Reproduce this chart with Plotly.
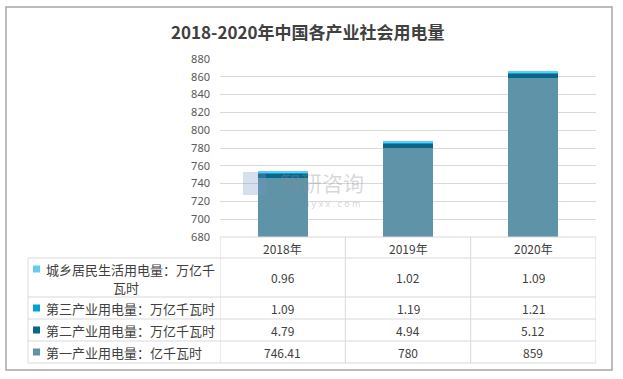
import plotly.graph_objects as go

years = ["2018年", "2019年", "2020年"]
series_names = ["第一产业用电量：亿千瓦时", "第二产业用电量：万亿千瓦时", "第三产业用电量：万亿千瓦时", "城乡居民生活用电量：万亿千瓦时"]
primary = [746.41, 780, 859]
secondary = [4.79, 4.94, 5.12]
tertiary = [1.09, 1.19, 1.21]
residential = [0.96, 1.02, 1.09]
colors = ["#5E93A8", "#0B6588", "#00A2DC", "#62CCF3"]
y_ticks = list(range(680, 881, 20))

series = [primary, secondary, tertiary, residential]

W, H = 623, 379
L, R, T, B = 220, 596, 59, 237

def px(x):
    return (x - L) / (R - L)

def py(y):
    return (B - y) / (B - T)

fig = go.Figure()
for name, vals, col in zip(series_names, series, colors):
    fig.add_trace(go.Bar(x=years, y=vals, name=name, marker=dict(color=col, line=dict(width=0)),
                         showlegend=False))

grid = "#D9D9D9"
shapes = []
# outer border
shapes.append(dict(type="rect", xref="paper", yref="paper", x0=px(6), x1=px(612), y0=py(7), y1=py(370),
                   line=dict(color="#A6A6A6", width=1.5), layer="below"))
# table lines
row_lines = [258, 297, 319, 341, 363]
shapes.append(dict(type="line", xref="paper", yref="paper", x0=px(220), x1=px(596), y0=py(237), y1=py(237),
                   line=dict(color=grid, width=1)))
for ry in row_lines:
    shapes.append(dict(type="line", xref="paper", yref="paper", x0=px(28), x1=px(596), y0=py(ry), y1=py(ry),
                       line=dict(color=grid, width=1)))
shapes.append(dict(type="line", xref="paper", yref="paper", x0=px(28), x1=px(28), y0=py(258), y1=py(363),
                   line=dict(color=grid, width=1)))
for i in range(len(years) + 1):
    xv = i - 0.5
    shapes.append(dict(type="line", xref="x", yref="paper", x0=xv, x1=xv, y0=py(237), y1=py(363),
                       line=dict(color=grid, width=1)))

annotations = []
annotations.append(dict(text="<b>2018-2020年中国各产业社会用电量</b>", xref="paper", yref="paper",
                        x=px(308), y=py(31), showarrow=False, xanchor="center", yanchor="middle",
                        font=dict(size=17, color="#404040", family="Noto Sans CJK SC")))
# header
for yr in years:
    annotations.append(dict(text=yr, xref="x", yref="paper", x=yr, y=py(248), showarrow=False,
                            xanchor="center", yanchor="middle",
                            font=dict(size=12, color="#404040", family="Noto Sans CJK SC")))
# rows (top to bottom: residential, tertiary, secondary, primary)
row_centers = [277.5, 308, 330, 352]
order = [3, 2, 1, 0]
lab_font = dict(size=13, color="#404040", family="Noto Sans CJK SC")
for rc, idx in zip(row_centers, order):
    vals = series[idx]
    for yr, v in zip(years, vals):
        annotations.append(dict(text=f"{v:g}", xref="x", yref="paper", x=yr, y=py(rc), showarrow=False,
                                xanchor="center", yanchor="middle",
                                font=dict(size=12, color="#404040", family="Noto Sans CJK SC")))
    sy = rc if idx != 3 else 269
    shapes.append(dict(type="rect", xref="paper", yref="paper", x0=px(33), x1=px(40), y0=py(sy - 3.5),
                       y1=py(sy + 3.5), fillcolor=colors[idx], line=dict(width=0)))
    label = series_names[idx]
    if idx == 3:
        first, second = label[:-2], label[-2:]
        annotations.append(dict(text=first, xref="paper", yref="paper", x=px(44), y=py(269), showarrow=False,
                                xanchor="left", yanchor="middle", font=lab_font))
        annotations.append(dict(text=second, xref="paper", yref="paper", x=px(126), y=py(287), showarrow=False,
                                xanchor="center", yanchor="middle", font=lab_font))
    else:
        annotations.append(dict(text=label, xref="paper", yref="paper", x=px(44), y=py(rc), showarrow=False,
                                xanchor="left", yanchor="middle", font=lab_font))

# watermark
annotations.append(dict(text="智研咨询", xref="paper", yref="paper", x=px(322), y=py(182), showarrow=False,
                        xanchor="center", yanchor="middle",
                        font=dict(size=21, color="rgba(140,140,150,0.35)", family="Noto Sans CJK SC")))
annotations.append(dict(text="w w w . c h y x x . c o m", xref="paper", yref="paper", x=px(312), y=py(203),
                        showarrow=False, xanchor="center", yanchor="middle",
                        font=dict(size=9, color="rgba(140,140,150,0.4)", family="Noto Sans")))
shapes.append(dict(type="rect", xref="paper", yref="paper", x0=px(243), x1=px(266), y0=py(195), y1=py(172),
                   fillcolor="rgba(120,150,200,0.3)", line=dict(width=0)))

fig.update_layout(
    width=W, height=H,
    margin=dict(l=L, r=W - R, t=T, b=H - B, pad=0),
    paper_bgcolor="white", plot_bgcolor="white",
    barmode="stack", bargap=0.6,
    shapes=shapes, annotations=annotations,
    xaxis=dict(showticklabels=False, showgrid=False, zeroline=False, showline=False, range=[-0.5, 2.5],
               fixedrange=True),
    yaxis=dict(range=[680, 880], tickvals=y_ticks, showgrid=True, gridcolor=grid, gridwidth=1,
               zeroline=False, showline=False, ticklabelstandoff=9,
               tickfont=dict(size=11, color="#595959", family="Noto Sans")),
    font=dict(family="Noto Sans CJK SC"),
)

fig.write_html("out.html", config={"displayModeBar": False},
               post_script="document.body.style.margin='0';document.body.style.overflow='hidden';")
